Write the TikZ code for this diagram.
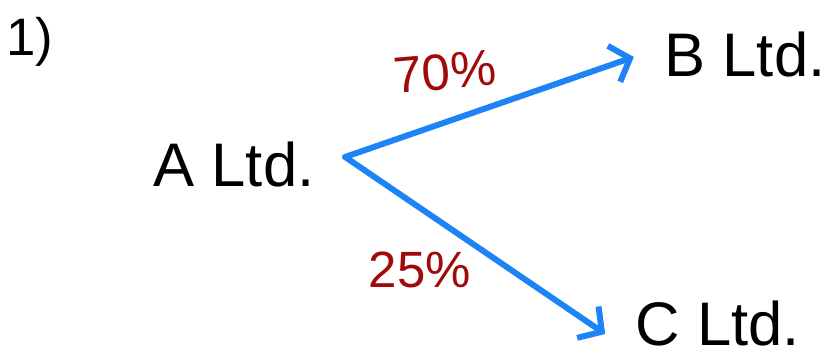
\documentclass[tikz,border=0pt]{standalone}
\usepackage{fontspec}
\setmainfont{Liberation Sans}
\usepackage{xcolor}
\usetikzlibrary{positioning,arrows.meta}

\definecolor{inkblue}{RGB}{30,132,245}
\definecolor{inkred}{RGB}{160,10,10}

\begin{document}
\begin{tikzpicture}[x=0.01cm, y=-0.01cm, >={Straight Barb[length=1.7mm,width=3.8mm]}]
  \tikzset{
    firm/.style={inner xsep=0.3cm,inner ysep=0pt,font=\fontsize{17.5}{20}\selectfont},
    share/.style={font=\fontsize{14.5}{17}\selectfont,text=inkred},
    link/.style={->,draw=inkblue,line width=1.7pt,line cap=round,line join=round}
  }
  \useasboundingbox (0,0) rectangle (823,356);
  % Question number
  \node[font=\fontsize{15}{18}\selectfont] (num) at (30,42) {1)};
  % Companies
  \node[firm] (A) at (234,165) {A Ltd.};
  \node[firm] (B) at (745,55) {B Ltd.};
  \node[firm] (C) at (718,324) {C Ltd.};
  % Holdings
  \draw[link] ([yshift=0.08cm]A.east) -- ([yshift=-0.02cm]B.west);
  \draw[link] ([yshift=0.08cm]A.east) -- ([yshift=-0.1cm]C.west);
  % Percentages
  \node[share,rotate=5] (pb) at (445,72) {70\%};
  \node[share] (pc) at (420,270) {25\%};
\end{tikzpicture}
\end{document}
